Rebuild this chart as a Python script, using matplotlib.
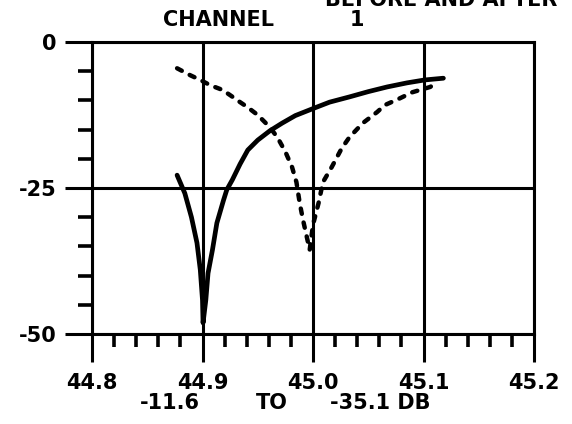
import matplotlib
matplotlib.use("Agg")
import matplotlib.pyplot as plt
from matplotlib.ticker import MultipleLocator, FixedLocator

# Data (frequency in MHz, level in dB)
solid_x = [44.877, 44.884, 44.890, 44.895, 44.898, 44.900, 44.9005,
           44.903, 44.905, 44.909, 44.913, 44.919, 44.922, 44.927,
           44.934, 44.941, 44.950, 44.961, 44.972, 44.984, 45.000,
           45.015, 45.033, 45.050, 45.067, 45.085, 45.101, 45.118]
solid_y = [-22.8, -25.9, -30.0, -34.4, -39.0, -44.2, -48.1,
           -44.2, -39.6, -35.6, -31.0, -27.1, -25.3, -23.6,
           -20.9, -18.5, -16.8, -15.2, -13.9, -12.6, -11.4,
           -10.3, -9.4, -8.5, -7.7, -7.0, -6.5, -6.2]

dash_x = [44.877, 44.889, 44.898, 44.907, 44.918, 44.925, 44.934, 44.941,
          44.950, 44.961, 44.968, 44.975, 44.981, 44.985, 44.988, 44.991,
          44.995, 44.997, 45.000, 45.005, 45.009, 45.017, 45.026, 45.033,
          45.045, 45.058, 45.065, 45.078, 45.090, 45.106, 45.112]
dash_y = [-4.5, -5.7, -6.5, -7.4, -8.2, -9.1, -10.3, -11.2,
          -12.5, -14.6, -16.4, -18.8, -21.4, -24.0, -27.6, -30.5,
          -33.9, -35.6, -31.3, -27.6, -24.0, -21.4, -18.2, -16.3,
          -13.9, -12.0, -10.8, -9.7, -8.6, -7.7, -7.0]

x_ticks = [44.8, 44.9, 45.0, 45.1, 45.2]
x_tick_labels = ["44.8", "44.9", "45.0", "45.1", "45.2"]
y_ticks = [0, -25, -50]
y_tick_labels = ["0", "-25", "-50"]

FONT = dict(family="DejaVu Sans", weight="bold", size=15)

fig = plt.figure(figsize=(5.72, 4.24), dpi=100)
ax = fig.add_axes([92/572, 1-334/424, (534-92)/572, (334-42)/424])

ax.plot(solid_x, solid_y, color="black", lw=3.4, solid_capstyle="round",
        solid_joinstyle="round", zorder=3)
ax.plot(dash_x, dash_y, color="black", lw=3.2, linestyle=(0, (1.2, 2.0)),
        dash_capstyle="round", zorder=3)

ax.set_xlim(44.8, 45.2)
ax.set_ylim(-50, 0)

ax.xaxis.set_major_locator(FixedLocator(x_ticks))
ax.set_xticklabels(x_tick_labels, fontdict=FONT)
ax.xaxis.set_minor_locator(MultipleLocator(0.02))
ax.yaxis.set_major_locator(FixedLocator(y_ticks))
ax.set_yticklabels(y_tick_labels, fontdict=FONT)
ax.yaxis.set_minor_locator(MultipleLocator(5))

ax.tick_params(axis="x", which="major", direction="out", length=20, width=2.2, pad=8)
ax.tick_params(axis="x", which="minor", direction="out", length=9, width=2.6)
ax.tick_params(axis="y", which="major", direction="out", length=19.5, width=2.2, pad=6)
ax.tick_params(axis="y", which="minor", direction="out", length=10, width=2.6)

ax.grid(True, which="major", color="black", lw=2.2)
for s in ax.spines.values():
    s.set_linewidth(2.2)
    s.set_color("black")

fig.text(163/572, 1-20/424, "CHANNEL", ha="left", va="center", **FONT)
fig.text(357/572, 1-20/424, "1", ha="center", va="center", **FONT)
fig.text(325/572, 1-6/424, "BEFORE AND AFTER", ha="left", va="baseline", **FONT)
fig.text(140/572, 1-403/424, "-11.6", ha="left", va="center", **FONT)
fig.text(272/572, 1-403/424, "TO", ha="center", va="center", **FONT)
fig.text(330/572, 1-403/424, "-35.1 DB", ha="left", va="center", **FONT)

fig.savefig("out.png", dpi=100)
